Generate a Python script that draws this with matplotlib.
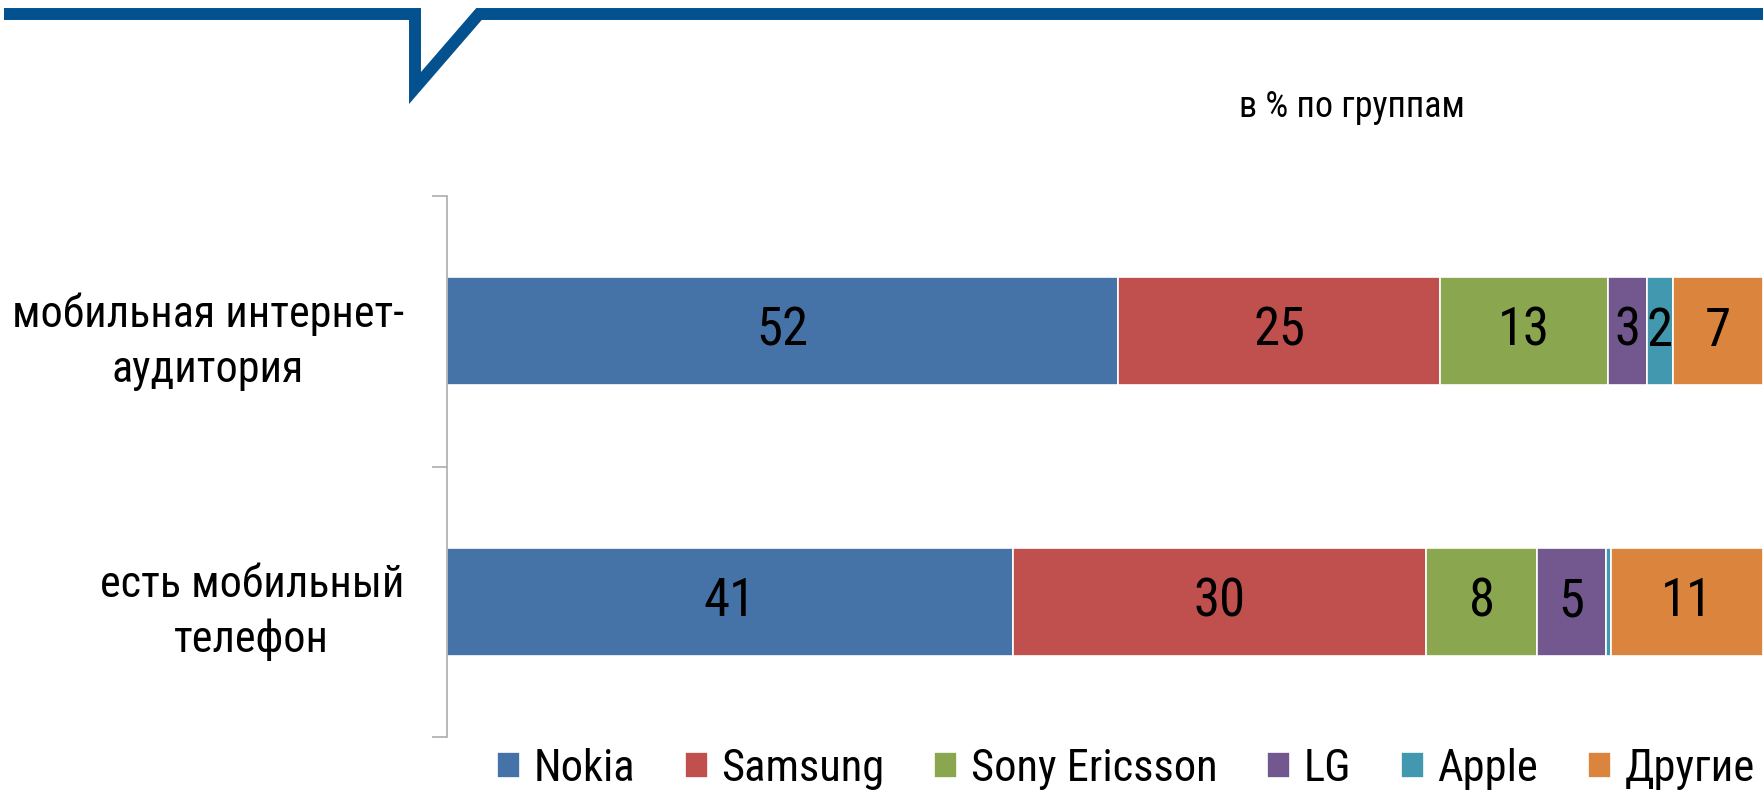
import numpy as np
import matplotlib.pyplot as plt

plt.rcParams['font.family'] = ['Roboto Condensed', 'PT Sans Narrow', 'Liberation Sans', 'DejaVu Sans']

# data (labels as printed, bars are 100% stacked)
groups = ['мобильная интернет-\nаудитория', 'есть мобильный\nтелефон']
brands = ['Nokia', 'Samsung', 'Sony Ericsson', 'LG', 'Apple', 'Другие']
nokia = [52, 41]
samsung = [25, 30]
sony = [13, 8]
lg = [3, 5]
apple = [2, 0.4]
other = [7, 11]
bar_labels = [['52', '41'], ['25', '30'], ['13', '8'], ['3', '5'], ['2', ''], ['7', '11']]
colors = ['#4673A7', '#C0504D', '#8AA64E', '#72588F', '#4298AF', '#DB843D']

W, H = 1763, 793
fig = plt.figure(figsize=(W / 100, H / 100), dpi=100)

# decorative blue frame line with the pointer at the top
deco = fig.add_axes([0, 0, 1, 1])
deco.set_xlim(0, W)
deco.set_ylim(H, 0)
deco.axis('off')
deco.plot([4, 415, 415, 479, W], [14, 14, 88, 14, 14], color='#03518F',
          linewidth=8.6, solid_joinstyle='miter', solid_capstyle='butt')

ax = fig.add_axes([447 / W, 1 - 737 / H, 1 - 447 / W, (737 - 196) / H])
values = np.array([nokia, samsung, sony, lg, apple, other], dtype=float)
pct = values / values.sum(axis=0) * 100
y = np.arange(len(groups))
left = np.zeros(len(groups))
for i, brand in enumerate(brands):
    bars = ax.barh(y, pct[i], left=left, height=0.4, color=colors[i],
                   edgecolor='white', linewidth=1.2, label=brand)
    ax.bar_label(bars, labels=bar_labels[i], label_type='center', fontsize=38)
    left += pct[i]

ax.set_xlim(0, 100)
ax.set_ylim(1.5, -0.5)
ax.set_yticks([-0.5, 0.5, 1.5])
ax.set_yticklabels([])
ax.set_yticks(y, labels=groups, minor=True)
for lab in ax.get_yticklabels(minor=True):
    lab.set_multialignment('center')
    lab.set_linespacing(1.38)
ax.tick_params(axis='y', which='major', length=10.8, width=1.1, color='#A6A6A6')
ax.tick_params(axis='y', which='minor', length=0, pad=31, labelsize=31.8)
ax.get_xaxis().set_visible(False)
for s in ['top', 'right', 'bottom']:
    ax.spines[s].set_visible(False)
ax.spines['left'].set_color('#A6A6A6')
ax.spines['left'].set_linewidth(1.1)

fig.text(1352 / W, 1 - 117 / H, 'в % по группам', fontsize=26, ha='center', va='baseline')

fig.legend(loc='center left', bbox_to_anchor=(497 / W, 1 - 769 / H), ncol=6,
           frameon=False, fontsize=32, borderpad=0, borderaxespad=0,
           handlelength=0.52, handleheight=0.52, handletextpad=0.3, columnspacing=1.12)

plt.savefig('out.png', dpi=100)
